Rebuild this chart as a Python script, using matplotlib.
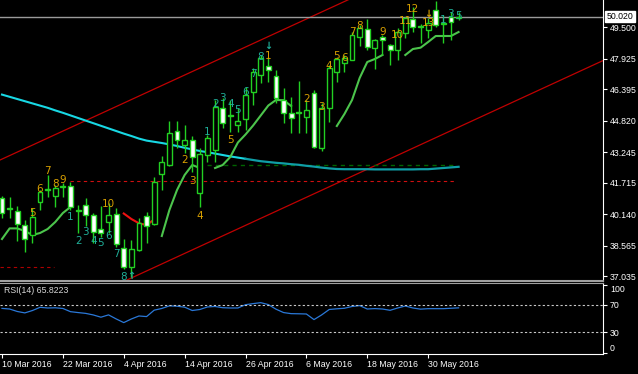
import numpy as np
import matplotlib as mpl
mpl.use('Agg')
import matplotlib.pyplot as plt
import matplotlib.transforms as mtrans

#
#--- candle data (daily bars, 10 Mar 2016 .. 1 Jun 2016)
#
opens  = [40.95, 40.475, 40.315, 39.60, 39.10, 40.765, 41.35, 41.05, 41.525, 41.55,
          40.375, 40.60, 40.10, 39.40, 39.765, 40.15, 38.45, 37.50, 38.35, 40.05,
          39.65, 42.15, 42.60, 44.30, 43.60, 43.85, 41.20, 43.10, 43.35, 45.45,
          45.125, 44.60, 44.90, 46.25, 47.10, 47.55, 47.05, 45.85, 45.20, 45.225,
          45.00, 46.20, 43.45, 45.45, 47.25, 47.70, 47.85, 49.00, 49.40, 48.45,
          49.015, 48.60, 48.35, 49.20, 49.90, 49.55, 49.35, 50.35, 49.725, 50.00,
          49.95]
highs  = [41.05, 41.00, 40.55, 39.85, 40.45, 41.35, 42.10, 41.60, 41.70, 41.75,
          40.60, 40.95, 40.20, 40.55, 40.70, 40.45, 38.90, 38.85, 39.95, 40.25,
          42.00, 43.05, 44.80, 44.80, 44.60, 44.05, 43.45, 44.10, 45.85, 45.95,
          45.85, 45.45, 46.50, 47.45, 48.10, 48.00, 47.35, 46.45, 46.00, 46.80,
          45.85, 46.35, 45.70, 47.60, 48.00, 48.10, 49.25, 49.60, 49.90, 48.90,
          49.10, 48.65, 49.45, 50.00, 50.50, 49.65, 49.95, 50.80, 50.10, 50.25,
          50.25]
lows   = [39.95, 39.95, 38.80, 38.25, 38.70, 40.35, 41.00, 40.50, 41.00, 40.35,
          39.20, 39.55, 38.70, 39.00, 39.20, 38.50, 37.40, 37.00, 38.30, 38.70,
          39.60, 41.35, 42.55, 43.45, 43.20, 42.25, 40.50, 42.75, 42.75, 44.45,
          44.25, 44.25, 44.35, 45.60, 46.70, 46.75, 45.70, 44.70, 44.20, 44.20,
          44.20, 43.45, 43.30, 44.75, 46.75, 47.25, 47.85, 48.55, 48.35, 47.40,
          48.10, 47.60, 47.85, 48.95, 49.25, 48.70, 48.95, 49.50, 48.70, 48.85,
          49.85]
closes = [40.20, 40.40, 39.65, 38.90, 40.00, 41.265, 41.375, 41.45, 41.55, 40.50,
          40.325, 40.10, 39.265, 39.20, 40.10, 38.65, 37.50, 38.40, 39.70, 39.55,
          41.75, 42.75, 44.20, 43.85, 43.85, 43.00, 43.15, 43.95, 45.50, 44.70,
          45.075, 44.80, 46.10, 47.25, 47.95, 47.35, 45.95, 45.20, 44.95, 45.20,
          45.35, 43.50, 45.45, 47.45, 47.90, 47.95, 49.10, 49.45, 48.50, 48.85,
          48.85, 48.35, 49.25, 49.95, 49.50, 49.525, 49.70, 49.60, 49.675, 49.75,
          50.02]

#
#--- slow moving average (cyan / teal)
#
slow_ma = [46.12, 46.01, 45.90, 45.79, 45.68, 45.57, 45.46, 45.33, 45.21, 45.08,
           44.95, 44.82, 44.69, 44.56, 44.43, 44.30, 44.17, 44.05, 43.92, 43.82,
           43.76, 43.70, 43.63, 43.55, 43.46, 43.38, 43.30, 43.24, 43.17, 43.10,
           43.03, 42.97, 42.91, 42.85, 42.79, 42.75, 42.71, 42.68, 42.64, 42.61,
           42.56, 42.52, 42.47, 42.43, 42.40, 42.39, 42.39, 42.39, 42.39, 42.38,
           42.38, 42.38, 42.38, 42.38, 42.38, 42.39, 42.39, 42.42, 42.45, 42.48,
           42.51]

#
#--- trailing stop line (green segments, red segment), None = no value
#
trail_green = [38.90, 39.43, 39.43, 39.30, 39.10, 39.20, 39.40, 39.75, 40.20, 40.50,
               None, None, None, None, None, None, None, None, None, None,
               None, 39.05, 40.35, 41.35, 42.10, 42.60, 42.45, None, 42.45, 42.60,
               43.00, 43.725, 44.125, 44.575, 45.075, 45.575, 45.85, 45.84, 45.55, None,
               None, None, None, None, 44.55, 45.15, 45.85, 46.95, 47.75, 47.90,
               48.10, None, None, 48.10, 48.40, 48.465, 48.75, 49.05, 49.05, 49.05,
               49.25]
trail_red   = [None] * 16 + [40.175, 39.90, 39.685, 39.60, 39.875] + [None] * 40

#
#--- rsi(14)
#
rsi = [65.0, 64.1, 60.5, 58.4, 61.9, 66.6, 65.6, 65.9, 64.9, 60.2,
       58.9, 57.7, 55.4, 52.1, 55.5, 49.6, 44.2, 49.5, 53.9, 53.0,
       62.4, 64.9, 68.7, 68.2, 66.8, 61.9, 63.4, 67.1, 67.8, 66.0,
       65.6, 65.6, 70.4, 72.0, 73.4, 70.6, 63.9, 58.9, 57.3, 57.1,
       56.8, 48.6, 55.4, 63.4, 64.4, 65.2, 67.8, 69.1, 64.1, 64.7,
       64.1, 62.2, 65.6, 68.5, 65.6, 63.9, 64.6, 64.6, 64.6, 65.2,
       65.8]

#
#--- td sequential counts: bar, text, price, kind (s: sell/gold, b: buy/teal)
#
seq_bar   = [4, 5, 6, 7, 8, 9, 10, 11, 12, 13, 14, 14, 15, 16,
             24, 25, 26, 30, 27, 28, 29, 30, 31, 32, 33, 34, 35,
             40, 42, 43, 44, 45, 46, 47, 50, 52, 53, 54, 56, 58, 59, 60]
seq_text  = ['5', '6', '7', '8', '9', '1', '2', '3', '4', '5', '10', '6', '7', '8',
             '2', '3', '4', '5', '1', '2', '3', '4', '5', '6', '7', '8', '1',
             '2', '3', '4', '5', '6', '7', '8', '9', '10', '11', '12', '13', '1', '3', '5']
seq_price = [40.2, 41.4, 42.3, 41.65, 41.85, 40.0, 38.8, 39.25, 38.8, 38.7, 40.65, 39.05, 38.15, 37.0,
             42.85, 41.8, 40.05, 43.85, 44.25, 45.65, 45.95, 45.65, 45.35, 46.25, 47.15, 48.0, 48.05,
             45.9, 45.5, 47.55, 48.05, 47.95, 49.25, 49.55, 49.25, 49.1, 49.8, 50.4, 49.7, 49.85, 50.15, 50.05]
seq_kind  = ['s', 's', 's', 's', 's', 'b', 'b', 'b', 'b', 'b', 's', 'b', 'b', 'b',
             's', 's', 's', 's', 'b', 'b', 'b', 'b', 'b', 'b', 'b', 'b', 's',
             's', 's', 's', 's', 's', 's', 's', 's', 's', 's', 's', 's', 'b', 'b', 'b']

arrow_bar   = [17, 35, 56]
arrow_price = [37.05, 48.55, 50.15]
arrow_dir   = ['up', 'down', 'down']
arrow_kind  = ['b', 'b', 's']

#
#--- channel and level lines
#
upper_chan = [(-1.0, 42.72), (50.0, 51.65)]
lower_chan = [(15.0, 36.60), (80.0, 48.00)]
red_level  = 41.80
red_level2 = 37.50
green_level = 42.60

price_ticks = [49.500, 47.925, 46.395, 44.820, 43.245, 41.715, 40.140, 38.565, 37.035]
last_price  = 50.020

date_bars   = [0, 8, 16, 24, 32, 40, 48, 56]
date_labels = ['10 Mar 2016', '22 Mar 2016', '4 Apr 2016', '14 Apr 2016',
               '26 Apr 2016', '6 May 2016', '18 May 2016', '30 May 2016']

rsi_levels = [100, 70, 30, 0]

#-------------------------------------------------------------------------------
#-- plot_chart: draw the candle chart with the rsi panel                     ---
#-------------------------------------------------------------------------------

def plot_chart():

    W, H = 638.0, 374.0
    fig = plt.figure(figsize=(W / 100, H / 100), dpi=100, facecolor='black')

    ax  = fig.add_axes([0, 93 / H, 603 / W, 281 / H], facecolor='black')
    ax2 = fig.add_axes([0, 20 / H, 603 / W, 71 / H], facecolor='black')

    xmin = -0.263
    xmax = 78.98
    n    = len(opens)
    x    = np.arange(n)
    cgreen = '#22d022'
    gold   = '#d8a000'
    teal   = '#1fae98'
    afont  = 'Liberation Sans'
#
#--- main panel
#
    ax.set_xlim(xmin, xmax)
    ax.set_ylim(36.80, 50.85)

    ax.plot([p[0] for p in upper_chan], [p[1] for p in upper_chan], color='#c00000', lw=0.9)
    ax.plot([p[0] for p in lower_chan], [p[1] for p in lower_chan], color='#c00000', lw=0.9)

    ax.plot([9, 59.7], [red_level, red_level], color='#d01010', lw=0.8, ls=(0, (3, 3)))
    ax.plot([-0.3, 6.8], [red_level2, red_level2], color='#b00000', lw=0.8, ls=(0, (3, 3)))
    ax.plot([27, 59.7], [green_level, green_level], color='#006400', lw=1.0, ls=(0, (3, 3)))

    ax.axhline(last_price, color='#9a9a9a', lw=1.0)

    sm = np.array(slow_ma)
    ax.plot(x[:33], sm[:33], color='#18d8e4', lw=1.5)
    ax.plot(x[32:], sm[32:], color='#0f9ea6', lw=1.6)

    tg = np.array([np.nan if v is None else v for v in trail_green])
    tr = np.array([np.nan if v is None else v for v in trail_red])
    ax.plot(x, tg, color='#4cc44c', lw=1.5)
    ax.plot(x, tr, color='#ee1111', lw=1.5)
#
#--- candles
#
    o = np.array(opens)
    c = np.array(closes)
    ax.vlines(x, lows, highs, color=cgreen, lw=1.0, zorder=3)
    bottom = np.minimum(o, c)
    height = np.maximum(np.abs(c - o), 0.03)
    fill   = ['white' if cc < oo else 'black' for oo, cc in zip(o, c)]
    ax.bar(x, height, bottom=bottom, width=0.64, color=fill, edgecolor=cgreen,
           linewidth=1.0, zorder=4)
#
#--- sequential counts and arrows
#
    for b, t, p, k in zip(seq_bar, seq_text, seq_price, seq_kind):
        ax.text(b, p, t, color=gold if k == 's' else teal, fontsize=7.5,
                ha='center', va='center', zorder=5)

    for b, p, d, k in zip(arrow_bar, arrow_price, arrow_dir, arrow_kind):
        ax.text(b, p, '\u2191' if d == 'up' else '\u2193', color=gold if k == 's' else teal,
                fontsize=7, ha='center', va='center', fontweight='bold', zorder=5)
#
#--- axes decoration
#
    for s in ['top', 'left']:
        ax.spines[s].set_visible(False)
    ax.spines['right'].set_color('white')
    ax.spines['bottom'].set_color('#a0a0a0')
    ax.spines['bottom'].set_linewidth(1.5)

    ax.set_xticks([])
    ax.yaxis.tick_right()
    ax.set_yticks(price_ticks)
    ax.set_yticklabels(['%.3f' % v for v in price_ticks], family=afont)
    ax.tick_params(axis='y', colors='white', labelsize=6.3, length=3, width=0.8, pad=2)

    trans = mtrans.blended_transform_factory(ax.transAxes, ax.transData)
    ax.text(1.006, last_price, '%.3f' % last_price, transform=trans, fontsize=6.3,
            family=afont, color='black', ha='left', va='center',
            bbox=dict(facecolor='white', edgecolor='white', pad=0.8), zorder=6)
#
#--- rsi panel
#
    ax2.set_xlim(xmin, xmax)
    ax2.set_ylim(-1.8, 102.2)
    ax2.plot(x, rsi, color='#2a78d8', lw=0.9)
    for lv in [70, 30]:
        ax2.axhline(lv, color='#c8c8c8', lw=0.8, ls=(0, (2, 2)))

    ax2.text(0.007, 0.89, 'RSI(14) %.4f' % 65.8223, transform=ax2.transAxes,
             color='#d8d8d8', fontsize=6.3, family=afont, ha='left', va='center')

    ax2.spines['top'].set_color('#a0a0a0')
    ax2.spines['left'].set_visible(False)
    ax2.spines['right'].set_color('white')
    ax2.spines['bottom'].set_color('white')

    ax2.yaxis.tick_right()
    ax2.set_yticks(rsi_levels)
    ax2.set_yticklabels([str(v) for v in rsi_levels], family=afont)
    ax2.tick_params(axis='y', colors='white', labelsize=6.3, length=3, width=0.8, pad=2)
    labs = ax2.get_yticklabels()
    labs[0].set_va('top')
    labs[-1].set_va('bottom')

    ax2.set_xticks(date_bars)
    ax2.set_xticklabels(date_labels, ha='left', family=afont)
    ax2.tick_params(axis='x', colors='white', labelsize=6.3, length=3, width=0.8, pad=1)

    fig.savefig('out.png', dpi=100, facecolor='black')
    plt.close(fig)


if __name__ == '__main__':

    plot_chart()
